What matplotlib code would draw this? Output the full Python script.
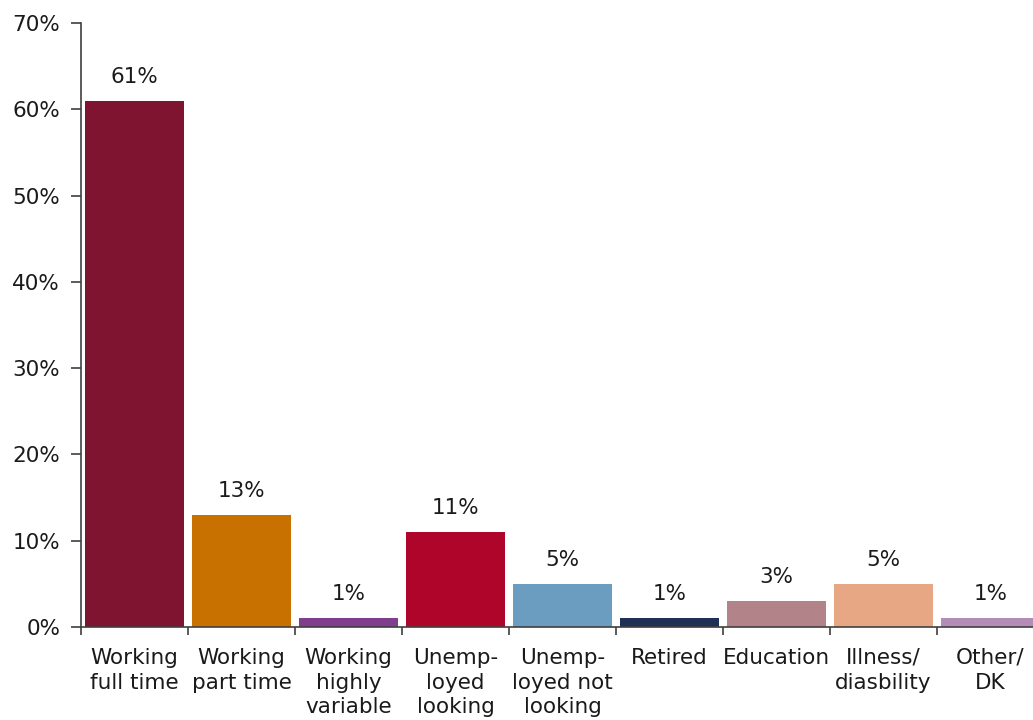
import matplotlib
matplotlib.use("Agg")
import matplotlib.pyplot as plt
from matplotlib.ticker import FixedLocator, PercentFormatter

categories = ["Working\nfull time", "Working\npart time", "Working\nhighly\nvariable",
              "Unemp-\nloyed\nlooking", "Unemp-\nloyed not\nlooking", "Retired",
              "Education", "Illness/\ndiasbility", "Other/\nDK"]
values = [61, 13, 1, 11, 5, 1, 3, 5, 1]
colors = ["#7F1430", "#C87000", "#7F3F8C", "#B0052B", "#6B9DC0",
          "#1F2F55", "#B3838A", "#E8A784", "#B48CB8"]
y_ticks = [0, 10, 20, 30, 40, 50, 60, 70]

plt.rcParams["font.family"] = ["DejaVu Sans"]
fig = plt.figure(figsize=(10.33, 7.2), dpi=100)
ax = fig.add_axes([81 / 1033, 1 - 627 / 720, 963 / 1033, (627 - 23) / 720])

x = range(len(categories))
ax.bar(x, values, width=0.92, color=colors, zorder=2)
for xi, v in zip(x, values):
    ax.annotate(f"{v}%", (xi, v), xytext=(0, 10), textcoords="offset points",
                ha="center", va="bottom", fontsize=15.5, color="#1a1a1a")

ax.set_xlim(-0.5, len(categories) - 0.5)
ax.set_ylim(0, 70)
ax.set_yticks(y_ticks)
ax.yaxis.set_major_formatter(PercentFormatter(decimals=0))
ax.set_xticks(list(x))
ax.set_xticklabels(categories, fontsize=15.5, color="#1a1a1a", linespacing=1.3)
ax.xaxis.set_minor_locator(FixedLocator([i - 0.5 for i in range(len(categories) + 1)]))
ax.tick_params(axis="x", which="major", length=0, pad=15)
ax.tick_params(axis="x", which="minor", length=6, width=1.2, color="#404040", direction="out")
ax.tick_params(axis="y", length=7, width=1.2, color="#404040", labelsize=15.5,
               labelcolor="#1a1a1a", pad=8)

for side in ["top", "right"]:
    ax.spines[side].set_visible(False)
for side in ["left", "bottom"]:
    ax.spines[side].set_color("#404040")
    ax.spines[side].set_linewidth(1.2)

fig.savefig("out.png", dpi=100)
